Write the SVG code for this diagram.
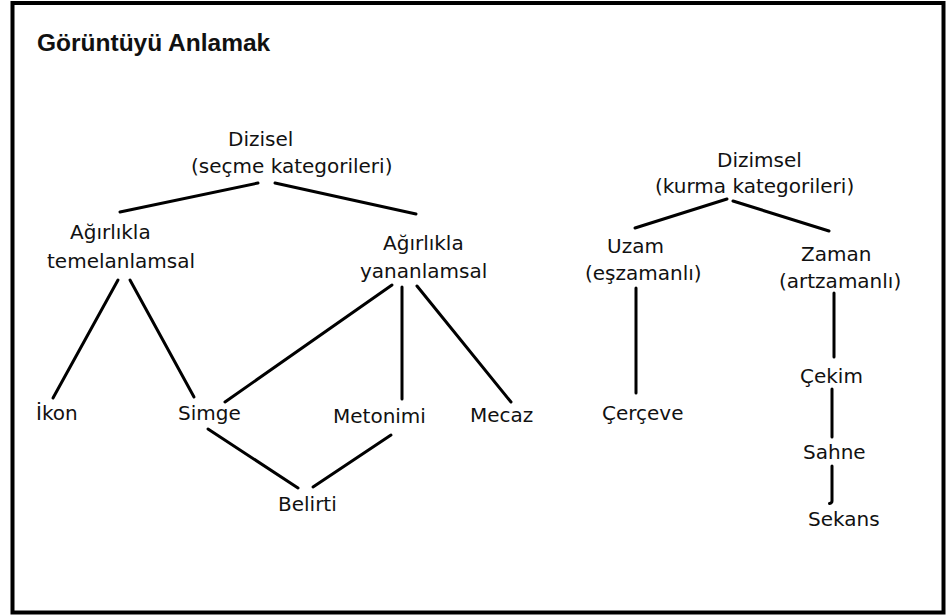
<svg xmlns="http://www.w3.org/2000/svg" width="947" height="616" viewBox="0 0 947 616">
  <style>
    .lbl { font-family: "DejaVu Sans", "Liberation Sans", sans-serif; font-size: 20px; fill: #111; }
    .title { font-family: "Liberation Sans", Arial, sans-serif; font-size: 24.5px; font-weight: bold; fill: #111; }
    .edge { stroke: #000; stroke-width: 3; fill: none; stroke-linecap: round; }
  </style>
  <rect x="0" y="0" width="947" height="616" fill="#fff"/>
  <!-- outer frame -->
  <rect x="12.5" y="3" width="931" height="609.5" fill="#fff" stroke="#000" stroke-width="4"/>

  <text class="title" x="37" y="51">Görüntüyü Anlamak</text>

  <g id="connectors">
    <!-- Dizisel branch -->
    <line class="edge" x1="258" y1="183" x2="120" y2="212"/>
    <line class="edge" x1="275" y1="183" x2="416" y2="214"/>
    <line class="edge" x1="118" y1="280" x2="53" y2="398"/>
    <line class="edge" x1="130" y1="280" x2="194" y2="397"/>
    <line class="edge" x1="392" y1="285" x2="225" y2="402"/>
    <line class="edge" x1="402" y1="287" x2="402" y2="399"/>
    <line class="edge" x1="417" y1="286" x2="511" y2="402"/>
    <line class="edge" x1="208" y1="429" x2="298" y2="488"/>
    <line class="edge" x1="391" y1="435" x2="313" y2="487"/>
    <!-- Dizimsel branch -->
    <line class="edge" x1="727" y1="199" x2="635" y2="228"/>
    <line class="edge" x1="733" y1="201" x2="829" y2="231"/>
    <line class="edge" x1="636" y1="288" x2="636" y2="393"/>
    <line class="edge" x1="834" y1="293" x2="834" y2="357"/>
    <line class="edge" x1="832" y1="389" x2="832" y2="437"/>
    <path class="edge" d="M832 466 L832 501 Q832 503 829.5 503.5"/>
  </g>

  <g id="dizisel"><text class="lbl" x="228" y="146">Dizisel</text><text class="lbl" x="191" y="173">(seçme kategorileri)</text></g>
  <g id="temelanlamsal"><text class="lbl" x="70" y="239">Ağırlıkla</text><text class="lbl" x="47" y="268">temelanlamsal</text></g>
  <g id="yananlamsal"><text class="lbl" x="383" y="250">Ağırlıkla</text><text class="lbl" x="360" y="278">yananlamsal</text></g>
  <g id="ikon"><text class="lbl" x="36" y="420">İkon</text></g>
  <g id="simge"><text class="lbl" x="178" y="420">Simge</text></g>
  <g id="metonimi"><text class="lbl" x="333" y="423">Metonimi</text></g>
  <g id="mecaz"><text class="lbl" x="470" y="422">Mecaz</text></g>
  <g id="belirti"><text class="lbl" x="278" y="511">Belirti</text></g>

  <g id="dizimsel"><text class="lbl" x="717" y="167">Dizimsel</text><text class="lbl" x="655" y="193">(kurma kategorileri)</text></g>
  <g id="uzam"><text class="lbl" x="607" y="253">Uzam</text><text class="lbl" x="585" y="280">(eşzamanlı)</text></g>
  <g id="zaman"><text class="lbl" x="801" y="261">Zaman</text><text class="lbl" x="779" y="288">(artzamanlı)</text></g>
  <g id="cerceve"><text class="lbl" x="602" y="420">Çerçeve</text></g>
  <g id="cekim"><text class="lbl" x="800" y="383">Çekim</text></g>
  <g id="sahne"><text class="lbl" x="803" y="459">Sahne</text></g>
  <g id="sekans"><text class="lbl" x="808" y="526">Sekans</text></g>
</svg>
